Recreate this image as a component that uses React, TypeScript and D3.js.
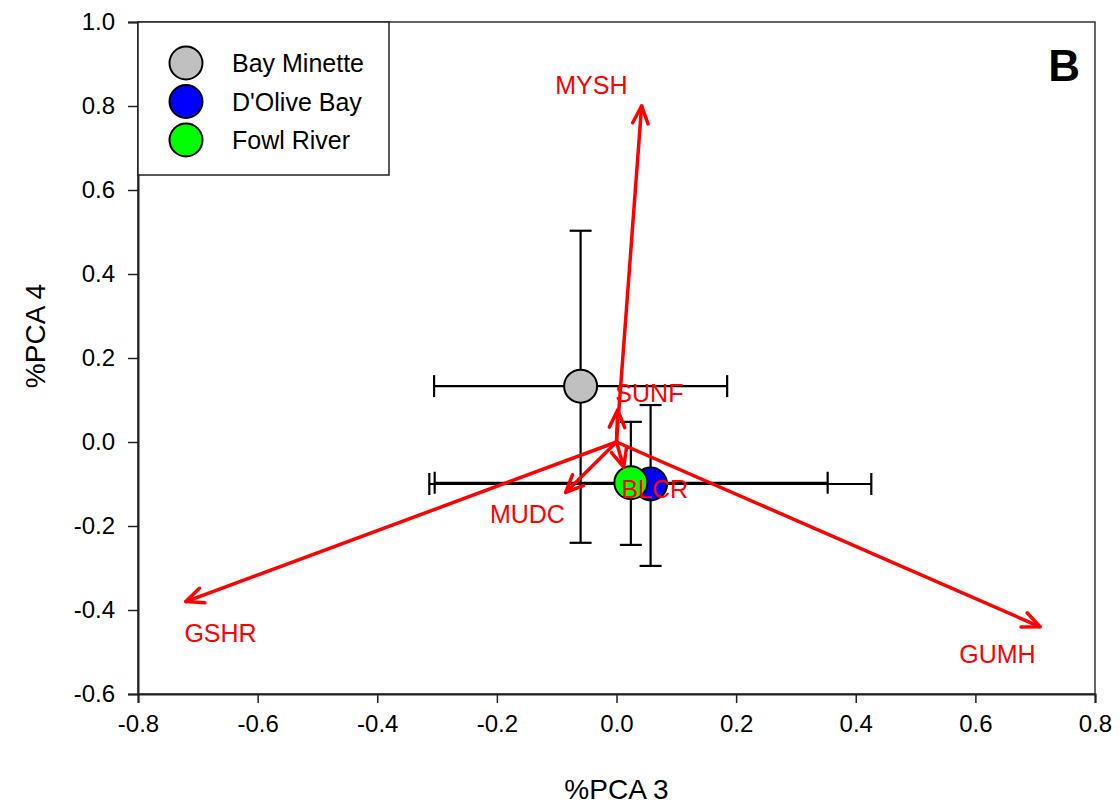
import React, { useRef, useEffect } from 'react';
import * as d3 from 'd3';

// site means with error bar bounds (PCA 3 / PCA 4 scores)
const sites = ['Bay Minette', "D'Olive Bay", 'Fowl River'];
const siteColors = ['#c0c0c0', '#0000ff', '#00ff00'];
const siteX = [-0.06, 0.057, 0.024];
const siteY = [0.133, -0.1, -0.097];
const siteXLow = [-0.305, -0.313, -0.304];
const siteXHigh = [0.185, 0.426, 0.353];
const siteYLow = [-0.24, -0.295, -0.245];
const siteYHigh = [0.503, 0.088, 0.048];

// species loading vectors
const species = ['MYSH', 'SUNF', 'BLCR', 'MUDC', 'GSHR', 'GUMH'];
const loadX = [0.042, 0.002, 0.012, -0.085, -0.72, 0.708];
const loadY = [0.8, 0.076, -0.06, -0.12, -0.38, -0.44];
const labelX = [-0.042, 0.055, 0.064, -0.149, -0.662, 0.637];
const labelY = [0.829, 0.095, -0.133, -0.193, -0.476, -0.526];

const xTicks = [-0.8, -0.6, -0.4, -0.2, 0.0, 0.2, 0.4, 0.6, 0.8];
const yTicks = [-0.6, -0.4, -0.2, 0.0, 0.2, 0.4, 0.6, 0.8, 1.0];

const FONT = 'Liberation Sans, Arial, sans-serif';

const App: React.FC = () => {
  const ref = useRef<SVGSVGElement>(null);
  const width = 1120;
  const height = 805;

  useEffect(() => {
    if (!ref.current) return;
    const svg = d3.select(ref.current);
    svg.selectAll('*').remove();

    const margin = { top: 22, right: 25, bottom: 111, left: 138 };
    const w = width - margin.left - margin.right;
    const h = height - margin.top - margin.bottom;

    const x = d3.scaleLinear().domain([-0.8, 0.8]).range([0, w]);
    const y = d3.scaleLinear().domain([-0.6, 1.0]).range([h, 0]);

    const g = svg.append('g').attr('transform', `translate(${margin.left},${margin.top})`);

    // frame
    g.append('rect')
      .attr('width', w).attr('height', h)
      .attr('fill', 'none').attr('stroke', '#333').attr('stroke-width', 1.5);

    const fmt = (d: d3.NumberValue) => (+d).toFixed(1);

    const xAxis = g.append('g')
      .attr('transform', `translate(0,${h})`)
      .call(d3.axisBottom(x).tickValues(xTicks).tickFormat(fmt).tickSize(9).tickPadding(12));
    const yAxis = g.append('g')
      .call(d3.axisLeft(y).tickValues(yTicks).tickFormat(fmt).tickSize(10).tickPadding(13));

    [xAxis, yAxis].forEach(a => {
      a.select('.domain').attr('stroke', '#222').attr('stroke-width', 2);
      a.selectAll('.tick line').attr('stroke', '#222').attr('stroke-width', 1.5);
      a.selectAll('.tick text')
        .attr('font-family', FONT).attr('font-size', 24).attr('fill', '#000');
    });

    // axis titles
    svg.append('text')
      .attr('x', margin.left + x(0)).attr('y', 799)
      .attr('text-anchor', 'middle')
      .attr('font-family', FONT).attr('font-size', 28)
      .text('%PCA 3');
    svg.append('text')
      .attr('transform', `translate(45,${margin.top + h / 2 - 22}) rotate(-90)`)
      .attr('text-anchor', 'middle')
      .attr('font-family', FONT).attr('font-size', 28)
      .text('%PCA 4');

    // error bars
    const cap = 11;
    const eb = g.append('g').attr('stroke', '#000').attr('stroke-width', 2.2).attr('fill', 'none');
    sites.forEach((_, i) => {
      const cx = x(siteX[i]);
      const cy = y(siteY[i]);
      eb.append('line').attr('x1', x(siteXLow[i])).attr('x2', x(siteXHigh[i])).attr('y1', cy).attr('y2', cy);
      eb.append('line').attr('x1', x(siteXLow[i])).attr('x2', x(siteXLow[i])).attr('y1', cy - cap).attr('y2', cy + cap);
      eb.append('line').attr('x1', x(siteXHigh[i])).attr('x2', x(siteXHigh[i])).attr('y1', cy - cap).attr('y2', cy + cap);
      eb.append('line').attr('x1', cx).attr('x2', cx).attr('y1', y(siteYLow[i])).attr('y2', y(siteYHigh[i]));
      eb.append('line').attr('x1', cx - cap).attr('x2', cx + cap).attr('y1', y(siteYLow[i])).attr('y2', y(siteYLow[i]));
      eb.append('line').attr('x1', cx - cap).attr('x2', cx + cap).attr('y1', y(siteYHigh[i])).attr('y2', y(siteYHigh[i]));
    });

    // site means
    g.append('g').selectAll('circle')
      .data(sites)
      .join('circle')
      .attr('cx', (_, i) => x(siteX[i]))
      .attr('cy', (_, i) => y(siteY[i]))
      .attr('r', 16.5)
      .attr('fill', (_, i) => siteColors[i])
      .attr('stroke', '#000').attr('stroke-width', 2);

    // loading vectors
    const arrows = g.append('g').attr('stroke', '#ff0000').attr('stroke-width', 3.5)
      .attr('fill', 'none').attr('stroke-linecap', 'round').attr('stroke-linejoin', 'round');
    const head = 19;
    const ang = (24 * Math.PI) / 180;
    species.forEach((_, i) => {
      const x0 = x(0), y0 = y(0);
      const x1 = x(loadX[i]), y1 = y(loadY[i]);
      const t = Math.atan2(y1 - y0, x1 - x0);
      arrows.append('line').attr('x1', x0).attr('y1', y0).attr('x2', x1).attr('y2', y1);
      const p1: [number, number] = [x1 - head * Math.cos(t - ang), y1 - head * Math.sin(t - ang)];
      const p2: [number, number] = [x1 - head * Math.cos(t + ang), y1 - head * Math.sin(t + ang)];
      arrows.append('path').attr('d', d3.line()([p1, [x1, y1], p2]));
    });

    g.append('g').selectAll('text')
      .data(species)
      .join('text')
      .attr('x', (_, i) => x(labelX[i]))
      .attr('y', (_, i) => y(labelY[i]))
      .attr('text-anchor', 'middle')
      .attr('font-family', FONT).attr('font-size', 25)
      .attr('fill', '#ff0000')
      .text(d => d);

    // legend
    const lg = g.append('g');
    lg.append('rect')
      .attr('x', 0).attr('y', 0).attr('width', 251).attr('height', 153)
      .attr('fill', '#fff').attr('stroke', '#222').attr('stroke-width', 1.5);
    sites.forEach((s, i) => {
      const ly = 41 + i * 38.5;
      lg.append('circle').attr('cx', 48).attr('cy', ly).attr('r', 16.5)
        .attr('fill', siteColors[i]).attr('stroke', '#000').attr('stroke-width', 2);
      lg.append('text').attr('x', 94).attr('y', ly + 9)
        .attr('font-family', FONT).attr('font-size', 25).text(s);
    });

    // panel letter
    g.append('text')
      .attr('x', w - 15).attr('y', 59)
      .attr('text-anchor', 'end')
      .attr('font-family', FONT).attr('font-size', 44).attr('font-weight', 'bold')
      .text('B');
  }, []);

  return (
    <svg
      ref={ref}
      width={width}
      height={height}
      style={{ position: 'absolute', left: 0, top: 0, background: '#fff' }}
    />
  );
};

export default App;
